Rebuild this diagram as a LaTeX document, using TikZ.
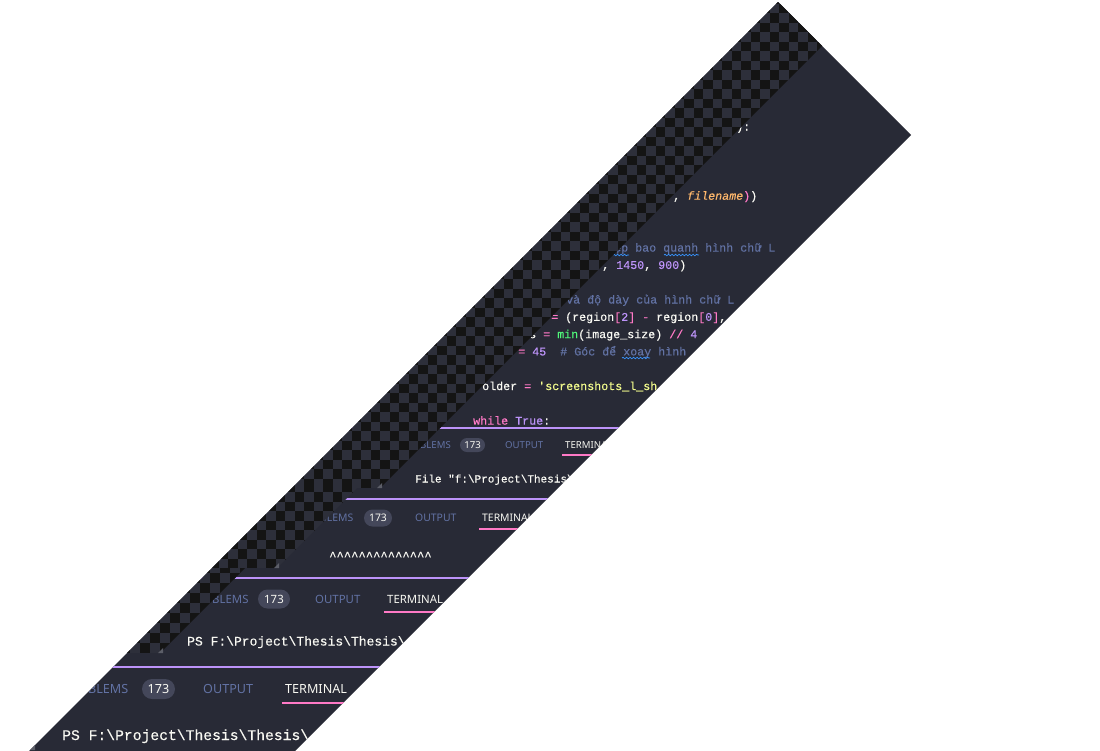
\documentclass[tikz,border=0pt]{standalone}
\usepackage{fontspec}
\setmonofont{Liberation Mono}[FakeBold=0.4]
\setsansfont{Noto Sans}
\usetikzlibrary{decorations.pathmorphing}

\definecolor{panel}{HTML}{282A36}
\definecolor{fgtext}{HTML}{F8F8F2}
\definecolor{cmt}{HTML}{6272A4}
\definecolor{kwpink}{HTML}{FF79C6}
\definecolor{numpurple}{HTML}{BD93F9}
\definecolor{fngreen}{HTML}{50FA7B}
\definecolor{strylw}{HTML}{F1FA8C}
\definecolor{argorange}{HTML}{FFB86C}
\definecolor{pillgrey}{HTML}{44475A}
\definecolor{chkdark}{HTML}{141414}
\definecolor{chklight}{HTML}{2D2F3A}
\definecolor{squiggle}{HTML}{3794FF}
\definecolor{gripgrey}{HTML}{5C5E68}

\newcommand{\cFg}[1]{\textcolor{fgtext}{#1}}
\newcommand{\cKw}[1]{\textcolor{kwpink}{#1}}
\newcommand{\cNum}[1]{\textcolor{numpurple}{#1}}
\newcommand{\cFn}[1]{\textcolor{fngreen}{#1}}
\newcommand{\cStr}[1]{\textcolor{strylw}{#1}}
\newcommand{\cArg}[1]{\textcolor{argorange}{\itshape #1}}
\newcommand{\cCmt}[1]{\textcolor{cmt}{#1}}
\newcommand{\bsl}{\textbackslash}
\newcommand{\uisize}[1]{\sffamily\fontsize{#1}{#1}\selectfont}
\newcommand{\ttsize}[1]{\ttfamily\fontsize{#1}{#1}\selectfont}

% top, bottom, limit of x+y, square size
\newcommand{\checkerlayer}[4]{%
  \begin{scope}
    \clip (0,#1) -- ({#3-#1},#1) -- ({#3-#2},#2) -- (0,#2) -- cycle;
    \fill[chklight] (0,#1) rectangle (1100,#2);
    \pgfmathtruncatemacro\rowN{ceil((#2-#1)/#4)}
    \foreach \j in {0,...,\rowN}{
      \pgfmathsetmacro\yy{#2-(\j+1)*#4}
      \pgfmathtruncatemacro\colA{floor((770-\yy)/#4)-2}
      \pgfmathtruncatemacro\colB{ceil((#3-\yy)/#4)+1}
      \foreach \c in {\colA,...,\colB}{
        \pgfmathtruncatemacro\parity{mod(\c+\j,2)}
        \ifnum\parity=0 \fill[chkdark] ({\c*#4},\yy) rectangle ++(#4,#4); \fi
      }
    }
  \end{scope}}

\tikzset{
  code/.style={anchor=base west, inner sep=0pt, text=fgtext, font=\ttsize{11.67}},
  termtxt/.style={anchor=base west, inner sep=0pt, text=fgtext},
  tabdim/.style={anchor=base west, inner sep=0pt, text=cmt},
  tabon/.style={anchor=base west, inner sep=0pt, text=fgtext},
  badge/.style={fill=pillgrey, text=fgtext, inner sep=0pt},
  sepline/.style={draw=numpurple, line width=1.1pt},
  tabline/.style={draw=kwpink, line width=1.2pt},
  squig/.style={draw=squiggle, line width=0.7pt, decorate, decoration={snake, amplitude=0.8pt, segment length=3.5pt}},
  grip/.style={fill=gripgrey}
}

\begin{document}
\begin{tikzpicture}[x=1pt,y=-1pt]
\useasboundingbox (0,0) rectangle (1100,750);
\fill[white] (0,0) rectangle (1100,750);

\begin{scope}
\clip (778,2) -- (911,135) -- (294,752) -- (28,752) -- cycle;
\fill[panel] (0,0) rectangle (1100,752);

\node[code] (ln0) at (736,130.5) {\cFg{):}};
\node[code] (ln4) at (673,199.7) {\cFg{,} \cArg{filename}\cKw{)}\cFg{)}};
\node[code] (ln7) at (614,251.6) {\cCmt{ệp bao quanh hình chữ L}};
\node[code] (ln8) at (602,268.9) {\cFg{,} \cNum{1450}\cFg{,} \cNum{900}\cFg{)}};
\node[code] (ln10) at (566,303.5) {\cCmt{và độ dày của hình chữ L}};
\node[code] (ln11) at (551,320.8) {\cKw{=} \cFg{(region}\cKw{[}\cNum{2}\cKw{]} \cKw{-} \cFg{region}\cKw{[}\cNum{0}\cKw{]}\cFg{,}};
\node[code] (ln12) at (529,338.1) {\cFg{s} \cKw{=} \cFn{min}\cFg{(image\_size)} \cKw{//} \cNum{4}};
\node[code] (ln13) at (518,355.4) {\cKw{=} \cNum{45}\ \ \cCmt{\# Góc để xoay hình}};
\node[code] (ln15) at (482,390) {\cFg{older} \cKw{=} \cStr{'screenshots\_l\_sh}};
\node[code] (ln17) at (473,424.6) {\cKw{while} \cNum{True}\cFg{:}};

\draw[squig] (613,255) -- (629,255);
\draw[squig] (664,255) -- (699,255);
\draw[squig] (622,358) -- (650,358);

\draw[sepline] (0,428) -- (1100,428);
\node[tabdim, font=\uisize{9.6}] (prob1) at (420,448.4) {BLEMS};
\node[badge, minimum width=25pt, minimum height=14pt, rounded corners=7pt, font=\uisize{9.6}] (cnt1) at (472.5,445) {173};
\node[tabdim, font=\uisize{9.6}] (out1) at (505,448.4) {OUTPUT};
\node[tabon, font=\uisize{9.6}] (term1) at (565,448.4) {TERMINAL};
\draw[tabline] ([xshift=-3pt,yshift=-6.6pt]term1.base west) -- ([xshift=3pt,yshift=-6.6pt]term1.base east);
\node[termtxt, font=\ttsize{11}] (log1) at (415,482.5) {File "f:\bsl Project\bsl Thesis\bsl};

\draw[sepline] (0,499) -- (1100,499);
\node[tabdim, font=\uisize{10.4}] (prob2) at (320,521.7) {BLEMS};
\node[badge, minimum width=28pt, minimum height=17pt, rounded corners=8.5pt, font=\uisize{10.4}] (cnt2) at (378,518) {173};
\node[tabdim, font=\uisize{10.4}] (out2) at (415,521.7) {OUTPUT};
\node[tabon, font=\uisize{10.4}] (term2) at (482,521.7) {TERMINAL};
\draw[tabline] ([xshift=-3pt,yshift=-7.3pt]term2.base west) -- ([xshift=3pt,yshift=-7.3pt]term2.base east);
\node[termtxt, font=\ttsize{12.2}] (log2) at (329,560) {\textasciicircum\textasciicircum\textasciicircum\textasciicircum\textasciicircum\textasciicircum\textasciicircum\textasciicircum\textasciicircum\textasciicircum\textasciicircum\textasciicircum\textasciicircum\textasciicircum};

\draw[sepline] (0,578) -- (1100,578);
\node[tabdim, font=\uisize{11.4}] (prob3) at (212,603) {BLEMS};
\node[badge, minimum width=32pt, minimum height=19pt, rounded corners=9.5pt, font=\uisize{11.4}] (cnt3) at (274,599) {173};
\node[tabdim, font=\uisize{11.4}] (out3) at (315,603) {OUTPUT};
\node[tabon, font=\uisize{11.4}] (term3) at (387,603) {TERMINAL};
\draw[tabline] ([xshift=-3pt,yshift=-9pt]term3.base west) -- ([xshift=3pt,yshift=-9pt]term3.base east);
\node[termtxt, font=\ttsize{13}] (log3) at (187,645.5) {PS F:\bsl Project\bsl Thesis\bsl Thesis\bsl};

\draw[sepline] (0,667) -- (1100,667);
\node[tabdim, font=\uisize{12.6}] (prob4) at (88,693.5) {BLEMS};
\node[badge, minimum width=33pt, minimum height=20pt, rounded corners=10pt, font=\uisize{12.6}] (cnt4) at (158.5,689) {173};
\node[tabdim, font=\uisize{12.6}] (out4) at (203,693.5) {OUTPUT};
\node[tabon, font=\uisize{12.6}] (term4) at (285,693.5) {TERMINAL};
\draw[tabline] ([xshift=-3pt,yshift=-9.5pt]term4.base west) -- ([xshift=3pt,yshift=-9.5pt]term4.base east);
\node[termtxt, font=\ttsize{14.7}] (log4) at (62,740) {PS F:\bsl Project\bsl Thesis\bsl Thesis\bsl};

\checkerlayer{0}{488}{868}{9.5}
\checkerlayer{488}{568}{845}{9.5}
\checkerlayer{568}{653}{813}{10}

\fill[grip] (382,488) -- (377,488) -- (382,483) -- cycle;
\fill[grip] (279,568) -- (274,568) -- (279,563) -- cycle;
\fill[grip] (163,653) -- (158,653) -- (163,648) -- cycle;
\fill[grip] (35,750) -- (30,750) -- (35,745) -- cycle;
\end{scope}
\end{tikzpicture}
\end{document}
